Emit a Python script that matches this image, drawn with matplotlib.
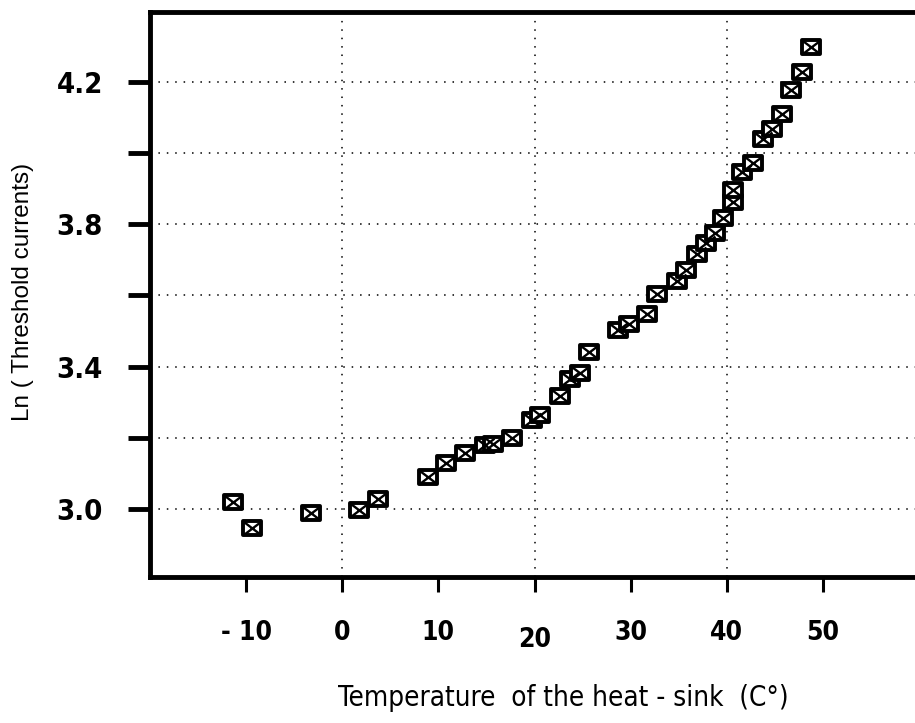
import numpy as np
import matplotlib
matplotlib.use("Agg")
import matplotlib.pyplot as plt
from matplotlib.path import Path
from matplotlib.transforms import ScaledTranslation

# heat-sink temperature (C) and ln of the threshold current
temps = [-11.4, -9.4, -3.3, 1.7, 3.7, 8.9, 10.8, 12.8, 14.9, 15.7, 17.7,
         19.7, 20.6, 22.7, 23.7, 24.7, 25.7, 28.7, 29.8, 31.7, 32.7, 34.8,
         35.8, 36.9, 37.8, 38.8, 39.6, 40.7, 40.7, 41.6, 42.7, 43.8, 44.7,
         45.7, 46.7, 47.8, 48.8]
ln_ith = [3.018, 2.946, 2.987, 2.996, 3.027, 3.088, 3.129, 3.158, 3.179,
          3.181, 3.198, 3.249, 3.265, 3.318, 3.366, 3.382, 3.441, 3.502,
          3.519, 3.549, 3.603, 3.640, 3.671, 3.716, 3.746, 3.776, 3.817,
          3.864, 3.897, 3.948, 3.971, 4.041, 4.069, 4.111, 4.177, 4.228,
          4.299]

xticks = [-10, 0, 10, 20, 30, 40, 50]
xticklabels = ["- 10", "0", "10", "20", "30", "40", "50"]
yticks = [3.0, 3.2, 3.4, 3.6, 3.8, 4.0, 4.2]
yticklabels = ["3.0", "", "3.4", "", "3.8", "", "4.2"]
xgrid = [0, 20, 40]

cond = dict(family="DejaVu Sans", fontstretch="condensed")

fig = plt.figure(figsize=(9.15, 7.23), dpi=100)
ax = fig.add_axes([150 / 915, 1 - 577 / 723, 769 / 915, 565 / 723])
ax.set_xlim(-20, 60)
ax.set_ylim(2.808, 4.397)

# boxed-x marker: a rectangle and its two diagonals drawn separately
w, h = 1.0, 0.76
box = Path([(-w, -h), (w, -h), (w, h), (-w, h), (-w, -h)],
           [Path.MOVETO, Path.LINETO, Path.LINETO, Path.LINETO, Path.CLOSEPOLY])
cross = Path([(-w, -h), (w, h), (-w, h), (w, -h)],
             [Path.MOVETO, Path.LINETO, Path.MOVETO, Path.LINETO])

ax.plot(temps, ln_ith, ls="none", marker=box, ms=13.0, mfc="white",
        mec="black", mew=2.8, zorder=3)
ax.plot(temps, ln_ith, ls="none", marker=cross, ms=13.0, mfc="none",
        mec="black", mew=1.7, zorder=4)

# dotted grid: every y tick, every other x tick
for yv in yticks:
    ax.axhline(yv, color="black", lw=1.1, ls=(0, (1, 4.5)), zorder=1)
for xv in xgrid:
    ax.axvline(xv, color="black", lw=1.1, ls=(0, (1, 4.5)), zorder=1)

for side in ["left", "bottom", "top", "right"]:
    ax.spines[side].set_linewidth(3.5)

ax.set_xticks(xticks)
ax.set_xticklabels(xticklabels, fontweight="bold", fontsize=19, **cond)
ax.set_yticks(yticks)
ax.set_yticklabels(yticklabels, fontweight="bold", fontsize=21, **cond)
ax.tick_params(axis="y", direction="out", length=16, width=3.5, pad=18)
ax.tick_params(axis="x", direction="out", length=11, width=2.2, pad=20)

# the "20" label sits a little lower than its neighbours
lab20 = ax.get_xticklabels()[3]
lab20.set_transform(lab20.get_transform()
                    + ScaledTranslation(0, -7 / 100, fig.dpi_scale_trans))

fig.text(563 / 915, 1 - 698 / 723, "Temperature  of the heat - sink  (C\u00b0)",
         ha="center", va="center", fontsize=20, **cond)
fig.text(23 / 915, 1 - 292 / 723, "Ln ( Threshold currents)", rotation=90,
         ha="center", va="center", family=["Liberation Sans", "DejaVu Sans"],
         fontsize=17.5)

fig.savefig("out.png", dpi=100)
